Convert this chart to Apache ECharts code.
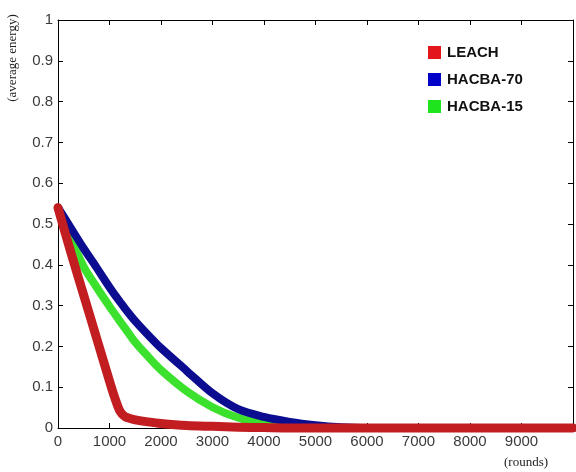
<!DOCTYPE html>
<html>
<head>
<meta charset="utf-8">
<script src="https://cdn.jsdelivr.net/npm/echarts@6/dist/echarts.min.js"></script>
<style>
  html, body { margin: 0; padding: 0; background: #fff; }
  #chart { width: 576px; height: 472px; }
</style>
</head>
<body>
<div id="chart"></div>
<script>
// rounds (x) shared by all curves
const rounds = [0, 250, 500, 750, 1000, 1100, 1200, 1300, 1500, 1750, 2000, 2500, 3000, 3500, 4000, 4500, 5000, 5500, 6000, 7000, 8000, 9000, 10000];

// average energy
const leach   = [0.54, 0.43, 0.325, 0.22, 0.115, 0.075, 0.042, 0.028, 0.02, 0.015, 0.011, 0.006, 0.004, 0.002, 0.001, 0, 0, 0, 0, 0, 0, 0, 0];
const hacba70 = [0.54, 0.49, 0.44, 0.393, 0.345, 0.327, 0.31, 0.293, 0.262, 0.228, 0.196, 0.14, 0.085, 0.046, 0.027, 0.015, 0.007, 0.002, 0, 0, 0, 0, 0];
const hacba15 = [0.54, 0.465, 0.395, 0.345, 0.298, 0.28, 0.262, 0.245, 0.21, 0.175, 0.142, 0.09, 0.051, 0.025, 0.011, 0.003, 0, 0, 0, 0, 0, 0, 0];

const seriesNames = ['LEACH', 'HACBA-70', 'HACBA-15'];

const pairs = (ys) => rounds.map((r, i) => [r, ys[i]]);

const myChart = echarts.init(document.getElementById('chart'));

const axisLine = { show: true, onZero: false, lineStyle: { color: '#000', width: 1 } };
const axisTick = { show: true, inside: true, length: 5, lineStyle: { color: '#000' } };
const labelStyle = { color: '#3a3a3a', fontFamily: 'Liberation Sans, Arial, sans-serif', fontSize: 15 };

const option = {
    animation: false,
    backgroundColor: '#fff',
    grid: { left: 58, top: 20, right: -2, bottom: 44, containLabel: false },
    legend: {
        data: seriesNames,
        orient: 'vertical',
        left: 423,
        top: 40,
        icon: 'rect',
        itemWidth: 13,
        itemHeight: 13,
        itemGap: 12,
        textStyle: {
            color: '#111',
            fontFamily: 'Liberation Sans, Arial, sans-serif',
            fontWeight: 'bold',
            fontSize: 15,
            lineHeight: 15,
            padding: [0, 0, 0, 1]
        }
    },
    graphic: [
        {
            type: 'text',
            x: 13, y: 58,
            rotation: Math.PI / 2,
            style: {
                text: '(average energy)',
                font: '13px "Liberation Serif", "Times New Roman", serif',
                fill: '#222',
                align: 'center',
                verticalAlign: 'middle'
            }
        },
        {
            type: 'text',
            x: 526, y: 463,
            style: {
                text: '(rounds)',
                font: '13px "Liberation Serif", "Times New Roman", serif',
                fill: '#222',
                align: 'center',
                verticalAlign: 'middle'
            }
        }
    ],
    xAxis: [
        {
            type: 'value',
            position: 'bottom',
            min: 0, max: 10000, interval: 1000,
            axisLine: axisLine,
            axisTick: axisTick,
            splitLine: { show: false },
            axisLabel: Object.assign({
                margin: 6,
                formatter: (v) => (v >= 10000 ? '' : String(v))
            }, labelStyle)
        },
        {
            type: 'value',
            position: 'top',
            min: 0, max: 10000, interval: 1000,
            axisLine: axisLine,
            axisTick: axisTick,
            splitLine: { show: false },
            axisLabel: { show: false }
        }
    ],
    yAxis: [
        {
            type: 'value',
            position: 'left',
            min: 0, max: 1, interval: 0.1,
            axisLine: axisLine,
            axisTick: axisTick,
            splitLine: { show: false },
            axisLabel: Object.assign({
                margin: 5,
                formatter: (v) => (v === 0 ? '0' : v === 1 ? '1' : v.toFixed(1))
            }, labelStyle)
        },
        {
            type: 'value',
            position: 'right',
            min: 0, max: 1, interval: 0.1,
            axisLine: axisLine,
            axisTick: axisTick,
            splitLine: { show: false },
            axisLabel: { show: false }
        }
    ],
    series: [
        {
            name: 'LEACH',
            type: 'line',
            data: pairs(leach),
            smooth: 0.25,
            symbol: 'none',
            clip: false,
            z: 4,
            itemStyle: { color: '#e3161b' },
            lineStyle: { color: '#c21e22', width: 9, cap: 'round', join: 'round' }
        },
        {
            name: 'HACBA-70',
            type: 'line',
            data: pairs(hacba70),
            smooth: 0.3,
            symbol: 'none',
            clip: false,
            z: 3,
            itemStyle: { color: '#0000c8' },
            lineStyle: { color: '#0c0c90', width: 8, cap: 'round', join: 'round' }
        },
        {
            name: 'HACBA-15',
            type: 'line',
            data: pairs(hacba15),
            smooth: 0.3,
            symbol: 'none',
            clip: false,
            z: 2,
            itemStyle: { color: '#1ee41e' },
            lineStyle: { color: '#3ce12d', width: 8, cap: 'round', join: 'round' }
        }
    ]
};

myChart.setOption(option, true);
window.onresize = function() {
    myChart.resize();
};
</script>
</body>
</html>
